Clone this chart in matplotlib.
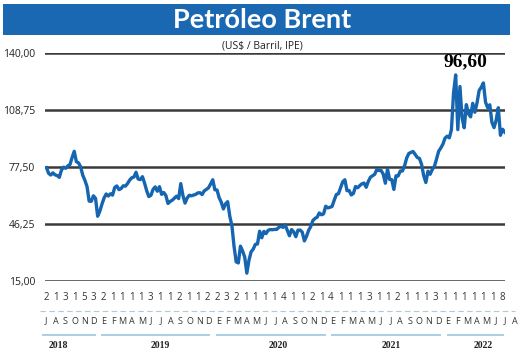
import matplotlib
matplotlib.use("Agg")
import numpy as np
import pandas as pd
from matplotlib import pyplot as plt
from matplotlib.patches import Rectangle

# weekly Brent closes (Friday), US$ / barrel
brent_2018 = [77.1, 74.0, 73.1, 74.3,
              73.2, 72.8, 71.8, 75.8, 77.4,
              76.8, 78.1, 78.8, 82.7,
              86.1, 80.4, 79.8, 77.6,
              73.0, 70.2, 66.8, 58.8, 58.7,
              61.7, 60.3, 50.5, 53.2]
brent_2019 = [57.1, 60.5, 62.7, 61.6,
              62.8, 62.1, 66.3, 67.1,
              65.1, 65.7, 67.2, 67.0, 68.4,
              70.3, 71.6, 72.0, 74.6,
              70.9, 70.6, 72.2, 68.7, 64.5,
              61.3, 62.0, 65.2, 66.6,
              64.2, 66.7, 62.5, 63.5,
              61.9, 57.5, 58.6, 59.3, 60.4,
              61.5, 60.2, 68.4, 61.9,
              57.7, 60.5, 62.0, 61.7,
              62.1, 62.5, 63.3, 63.4, 62.4,
              64.4, 65.2, 66.1, 68.2]
brent_2020 = [70.5, 65.0, 64.9, 60.7, 58.2,
              54.5, 57.3, 58.5, 50.5,
              45.3, 33.9, 25.5, 24.9,
              34.1, 31.5, 28.1, 19.3,
              26.4, 31.0, 32.5, 35.1, 35.3,
              42.3, 38.7, 42.2, 41.0,
              42.8, 43.2, 43.1, 43.3, 43.3,
              44.4, 45.0, 44.4, 45.8,
              42.7, 39.8, 43.2, 41.9,
              39.3, 42.9, 42.9, 41.8, 37.0,
              39.5, 42.8, 44.9, 48.2,
              49.3, 50.0, 52.3, 51.3]
brent_2021 = [51.8, 56.0, 55.1, 55.4, 55.9,
              59.3, 62.4, 62.9, 66.1,
              69.4, 70.5, 64.5, 64.6,
              62.2, 63.0, 66.8, 66.1, 67.3,
              68.3, 68.7, 66.4, 69.6,
              71.9, 72.7, 73.5, 76.2,
              75.6, 75.6, 73.6, 68.6, 76.3,
              70.7, 70.6, 65.2, 72.7,
              72.6, 75.3, 75.3, 78.1,
              82.4, 84.9, 85.5, 86.0, 84.4,
              82.7, 82.2, 78.9, 72.7,
              69.0, 75.2, 73.5, 76.1, 77.8]
brent_2022 = [81.8, 86.1, 87.9, 90.0,
              93.3, 94.4, 93.5, 97.9,
              118.1, 128.0, 98.0, 121.6,
              104.4, 99.0, 111.7, 106.7, 105.0,
              112.4, 107.5, 112.6, 119.4,
              121.2, 123.6, 113.1, 110.0,
              111.6, 102.0, 99.1, 103.2, 110.0,
              94.9, 98.2, 96.6]

last_label = "96,60"
y_ticks = [15.00, 46.25, 77.50, 108.75, 140.00]
y_labels = ["15,00", "46,25", "77,50", "108,75", "140,00"]

day_row = list("2131532111131121122321111411214111311211131111118")
month_row = list("JASOND" + "EFMAMJJASOND" * 3 + "EFMAMJJA")
years = ["2018", "2019", "2020", "2021", "2022"]
year_x = [58, 160, 278, 391, 483]
year_segs = [(43, 95), (102, 209), (217, 325), (332, 440), (448, 503)]

blue = "#1565b0"
W, H = 520, 354

values = np.array(brent_2018 + brent_2019 + brent_2020 + brent_2021 + brent_2022)
dates = pd.date_range("2018-07-06", periods=len(values), freq="W-FRI")

fig = plt.figure(figsize=(W / 100, H / 100), dpi=100)
fig.patch.set_facecolor("white")

def fx(x):
    return x / W

def fy(y):
    return 1 - y / H

# title banner
fig.patches.append(Rectangle((fx(3), fy(35)), fx(507), 31 / H, transform=fig.transFigure,
                             facecolor="#1a68b2", edgecolor="none"))
fig.text(fx(262), fy(19.5), "Petróleo Brent", color="white", fontsize=19.5,
         fontweight="bold", family="Lato", ha="center", va="center")
fig.text(fx(262), fy(46), "(US$ / Barril, IPE)", fontsize=7.5, family="Open Sans",
         ha="center", va="center", color="#222222")

ax = fig.add_axes([fx(45), fy(281), fx(460), 228 / H])
ax.plot(dates, values, color=blue, lw=2.4, solid_joinstyle="round", zorder=3)
ax.set_ylim(15, 140)
ax.set_xlim(pd.Timestamp("2018-07-01"), dates[-1] + pd.Timedelta(days=1))
ax.set_yticks(y_ticks)
ax.set_yticklabels(y_labels, fontsize=7.5, family="Open Sans", color="#222222")
ax.tick_params(axis="y", length=0, pad=7)
ax.set_xticks([])
for s in ax.spines.values():
    s.set_visible(False)
for t in y_ticks:
    ax.axhline(t, color="#3a3a3a", lw=1.8, zorder=1)

ax.annotate(last_label, xy=(dates[-1], values.max()), xytext=(fx(465), fy(62)),
            textcoords="figure fraction", fontsize=14, fontweight="bold",
            family="Liberation Serif", ha="center", va="center")

# bottom date rows
for i, d in enumerate(day_row):
    fig.text(fx(46 + i * 9.5), fy(298), d, fontsize=7, family="Open Sans",
             ha="center", va="center", color="#333333")
fig.add_artist(plt.Line2D([fx(40), fx(515)], [fy(311), fy(311)], color="#b5c8d6",
                          lw=0.8, ls=(0, (5, 3))))
for i, m in enumerate(month_row):
    fig.text(fx(46 + i * 9.57), fy(321), m, fontsize=6.5, family="Open Sans",
             ha="center", va="center", color="#333333")
for a, b in year_segs:
    fig.add_artist(plt.Line2D([fx(a), fx(b)], [fy(335), fy(335)], color="#a9cfe3", lw=1.4))
for yx, yr in zip(year_x, years):
    fig.text(fx(yx), fy(345), yr, fontsize=7, fontweight="bold", family="Liberation Serif",
             ha="center", va="center", color="#222222")

fig.savefig("out.png", dpi=100)
